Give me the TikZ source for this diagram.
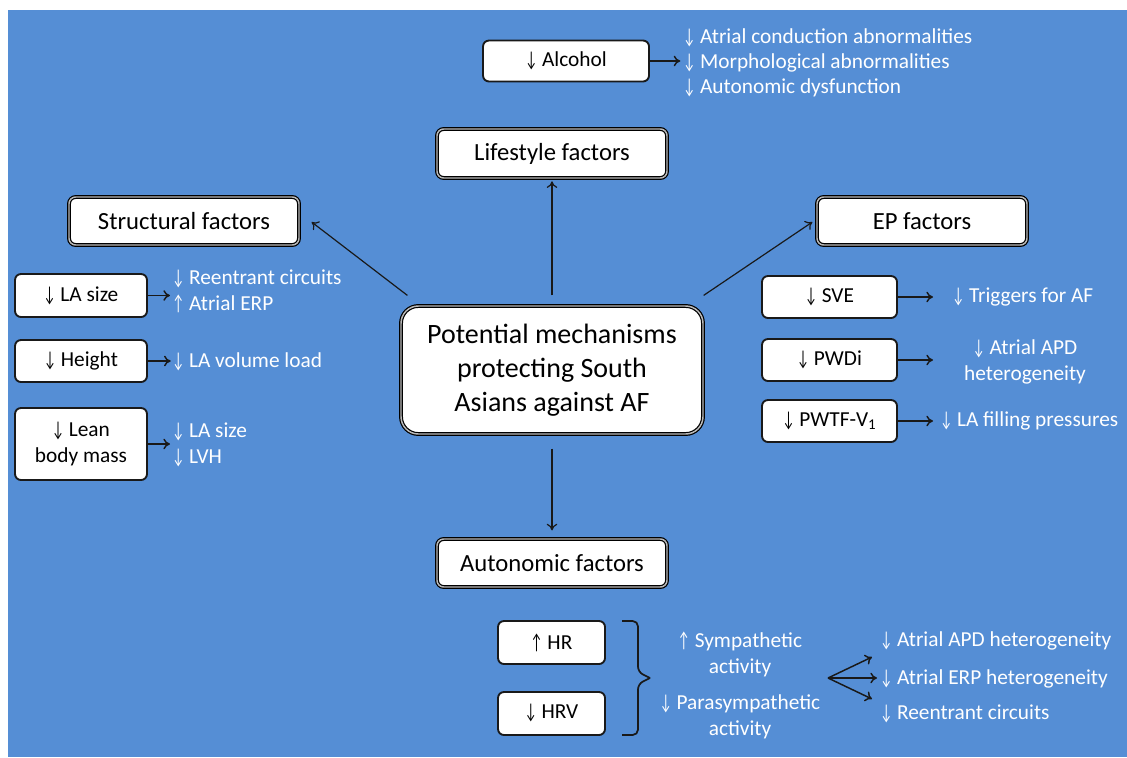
\documentclass[tikz,border=0pt]{standalone}
\usepackage{fontspec}
\setmainfont{Carlito}
\usetikzlibrary{arrows.meta}
\definecolor{bgblue}{RGB}{85,142,213}
\newcommand\dn{\scalebox{0.62}[1]{↓}}
\newcommand\upa{\scalebox{0.62}[1]{↑}}
\tikzset{
  sbox/.style={draw=black!90, line width=1.4pt, fill=white, rounded corners=4.5pt, inner sep=0pt, align=center, font=\fontsize{16}{19.5}\selectfont, text=black},
  dbox/.style={draw=black, line width=0.9pt, double=gray!55, double distance=1.1pt, fill=white, rounded corners=5pt, inner sep=0pt, align=center, font=\fontsize{18.5}{22}\selectfont, text=black},
  wtxt/.style={text=white, inner sep=0pt, font=\fontsize{16}{19.5}\selectfont},
  arr/.style={-{To[length=5pt,width=8pt]}, line width=1.1pt, draw=black!90},
  thin/.style={-{To[length=5pt,width=8pt]}, line width=0.9pt, draw=black!90}
}
\begin{document}
\begin{tikzpicture}[x=0.75pt,y=-0.75pt]
\useasboundingbox (0,0) rectangle (1127,757);
\fill[white] (0,0) rectangle (1127,757);
\fill[bgblue] (8,10) rectangle (1127,757);

% top: alcohol
\node[sbox, minimum width=124.5pt, minimum height=30.75pt] (alc) at (566,61) {\dn{} Alcohol};
\node[wtxt, anchor=west, align=left, font=\fontsize{16}{18.75}\selectfont] (alctxt) at (683,63) {\dn{} Atrial conduction abnormalities\\\dn{} Morphological abnormalities\\\dn{} Autonomic dysfunction};
\draw[arr] (alc.east) -- ([xshift=-2pt]alc.east -| alctxt.west);

% main boxes
\node[dbox, minimum width=172.5pt, minimum height=36.75pt] (life) at (552,153.5) {Lifestyle factors};
\node[dbox, minimum width=172.5pt, minimum height=36pt] (struct) at (184,221) {Structural factors};
\node[dbox, minimum width=157.5pt, minimum height=36pt] (ep) at (922,221) {EP factors};
\node[dbox, minimum width=172.5pt, minimum height=36pt] (auto) at (552,563) {Autonomic factors};
\node[dbox, minimum width=226.5pt, minimum height=96pt, rounded corners=13pt, font=\fontsize{21}{25.5}\selectfont] (center) at (552,370) {Potential mechanisms\\protecting South\\Asians against AF};

\draw[thin, shorten <=7.5pt, shorten >=2pt] (center) -- (life);
\draw[thin] ([shift={(7,-10)}]center.north west) -- ([shift={(12,1)}]struct.east);
\draw[thin] ([shift={(0,-10)}]center.north east) -- ([shift={(-4,1)}]ep.west);
\draw[thin, shorten <=10.5pt, shorten >=6pt] (center) -- (auto);

% structural side
\node[sbox, minimum width=99pt, minimum height=32.25pt] (lasize) at (81,295.5) {\dn{} LA size};
\node[sbox, minimum width=99pt, minimum height=31.5pt] (height) at (81,361) {\dn{} Height};
\node[sbox, minimum width=99pt, minimum height=54pt] (lean) at (81,444) {\dn{} Lean\\body mass};
\node[wtxt, anchor=west, align=left] (latxt) at (172,291) {\dn{} Reentrant circuits\\\upa{} Atrial ERP};
\node[wtxt, anchor=west] (htxt) at (172,362) {\dn{} LA volume load};
\node[wtxt, anchor=west, align=left] (leantxt) at (172,444.5) {\dn{} LA size\\\dn{} LVH};
\draw[arr] (lasize.east) -- ([xshift=-1.5pt]lasize.east -| latxt.west);
\draw[arr] (height.east) -- ([xshift=-1pt]height.east -| htxt.west);
\draw[arr] (lean.east) -- ([xshift=-1.5pt]lean.east -| leantxt.west);

% EP side
\node[sbox, minimum width=101.25pt, minimum height=31.5pt] (sve) at (829.5,297) {\dn{} SVE};
\node[sbox, minimum width=101.25pt, minimum height=31.5pt] (pwdi) at (829.5,360) {\dn{} PWDi};
\node[sbox, minimum width=101.25pt, minimum height=31.5pt] (pwtf) at (829.5,421) {\dn{} PWTF-V\textsubscript{1}};
\node[wtxt, anchor=west] (svetxt) at (952,297) {\dn{} Triggers for AF};
\node[wtxt, align=center] (pwditxt) at (1025,362) {\dn{} Atrial APD\\heterogeneity};
\node[wtxt, anchor=west] (pwtftxt) at (940,421) {\dn{} LA filling pressures};
\coordinate (sveE) at (933,297);
\coordinate (pwdiE) at (933,360);
\coordinate (pwtfE) at (933,421);
\draw[arr] (sve.east) -- (sveE);
\draw[arr] (pwdi.east) -- (pwdiE);
\draw[arr] (pwtf.east) -- (pwtfE);

% autonomic
\node[sbox, minimum width=80.25pt, minimum height=32.25pt] (hr) at (551.5,642.5) {\upa{} HR};
\node[sbox, minimum width=80.25pt, minimum height=32.25pt] (hrv) at (551.5,713.5) {\dn{} HRV};
\draw[line width=1.3pt, draw=black!90, rounded corners=4pt] (622,621) -- (638,621) -- (638,672) -- (650,678);
\draw[line width=1.3pt, draw=black!90, rounded corners=4pt] (622,735) -- (638,735) -- (638,684) -- (650,678);
\node[wtxt, align=center] (symp) at (740,654) {\upa{} Sympathetic\\activity};
\node[wtxt, align=center] (para) at (740,717) {\dn{} Parasympathetic\\activity};
\node[wtxt, anchor=west] (apd) at (880,641) {\dn{} Atrial APD heterogeneity};
\node[wtxt, anchor=west] (erp) at (880,679) {\dn{} Atrial ERP heterogeneity};
\node[wtxt, anchor=west] (reen) at (880,714) {\dn{} Reentrant circuits};
\coordinate (fan) at (828,678);
\coordinate (fanA) at (872,657);
\coordinate (fanB) at (877,678);
\coordinate (fanC) at (872,699);
\draw[arr] (fan) -- (fanA);
\draw[arr] (fan) -- (fanB);
\draw[arr] (fan) -- (fanC);
\end{tikzpicture}
\end{document}
